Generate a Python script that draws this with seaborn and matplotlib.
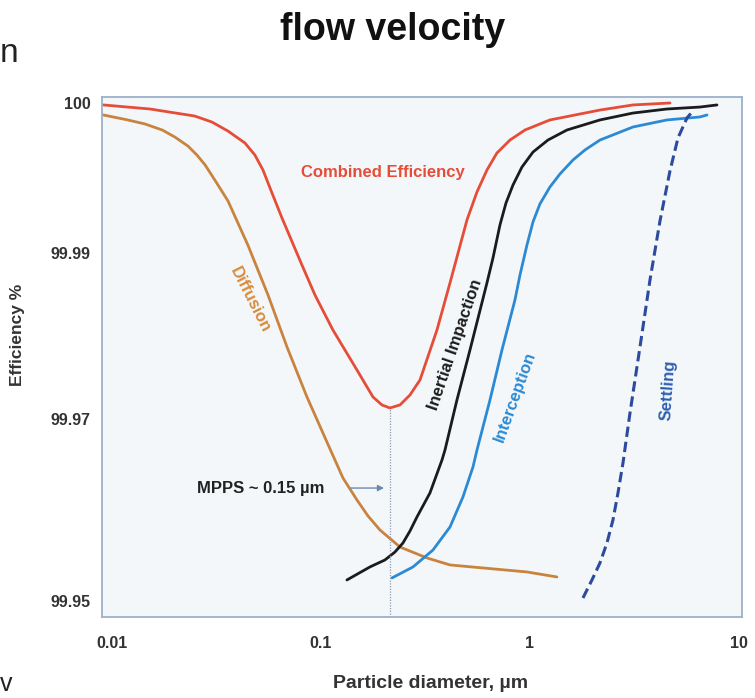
import numpy as np
import matplotlib
matplotlib.use('Agg')
import matplotlib.pyplot as plt
import seaborn as sns
from matplotlib.ticker import FixedLocator, FixedFormatter

# particle diameter (um) and efficiency (%)
combined_d = [0.0091, 0.0152, 0.0249, 0.0301, 0.0359, 0.0433, 0.0483, 0.0528, 0.0583,
              0.0651, 0.0811, 0.0936, 0.1141, 0.1487, 0.1774, 0.1958, 0.2138, 0.2388,
              0.2666, 0.2977, 0.3589, 0.4143, 0.4995, 0.5578, 0.6225, 0.6951, 0.8024,
              0.9465, 1.246, 2.162, 3.110, 4.676]
combined_eff = [99.99987, 99.99960, 99.99913, 99.99873, 99.99813, 99.99733, 99.99653,
                99.99553, 99.99400, 99.99233, 99.98855, 99.98494, 99.98072, 99.97590,
                99.97265, 99.97169, 99.97133, 99.97169, 99.97289, 99.97470, 99.98072,
                99.98639, 99.99220, 99.99407, 99.99553, 99.99667, 99.99753, 99.99820,
                99.99887, 99.99953, 99.99987, 100.0]

diffusion_d = [0.0091, 0.0119, 0.0144, 0.0174, 0.0200, 0.0231, 0.0255, 0.0279, 0.0315,
               0.0359, 0.0447, 0.0558, 0.0688, 0.0857, 0.1068, 0.1274, 0.1487, 0.1679,
               0.1916, 0.2388, 0.3215, 0.4143, 0.5958, 0.9674, 1.346]
diffusion_eff = [99.99920, 99.99887, 99.99860, 99.99820, 99.99773, 99.99713, 99.99653,
                 99.99587, 99.99473, 99.99347, 99.99053, 99.98494, 99.97867, 99.97265,
                 99.96747, 99.96352, 99.96110, 99.95934, 99.95780, 99.95593, 99.95473,
                 99.95396, 99.95363, 99.95319, 99.95264]

impaction_d = [0.1331, 0.1715, 0.2024, 0.2259, 0.2467, 0.2666, 0.2879, 0.3322, 0.3793,
               0.3921, 0.4473, 0.5163, 0.6225, 0.6653, 0.7186, 0.7677, 0.8293, 0.9156,
               1.034, 1.219, 1.503, 2.162, 3.110, 4.524, 6.508, 7.847]
impaction_eff = [99.95231, 99.95374, 99.95451, 99.95538, 99.95637, 99.95769, 99.95923,
                 99.96187, 99.96549, 99.96659, 99.97229, 99.97831, 99.98639, 99.98940,
                 99.99187, 99.99333, 99.99453, 99.99573, 99.99673, 99.99753, 99.99820,
                 99.99887, 99.99933, 99.99960, 99.99973, 99.99987]

interception_d = [0.2186, 0.2756, 0.3434, 0.4143, 0.4779, 0.5338, 0.5578, 0.6436, 0.7345,
                  0.8475, 0.8958, 0.9674, 1.034, 1.116, 1.246, 1.392, 1.606, 1.834, 2.162,
                  3.110, 4.524, 6.508, 7.029]
interception_eff = [99.95253, 99.95374, 99.95560, 99.95813, 99.96143, 99.96473, 99.96659,
                    99.97229, 99.97831, 99.98434, 99.98735, 99.99053, 99.99207, 99.99327,
                    99.99440, 99.99527, 99.99620, 99.99687, 99.99753, 99.99840, 99.99887,
                    99.99907, 99.99920]

settling_d = [1.793, 1.980, 2.162, 2.335, 2.495, 2.637, 2.786, 3.010, 3.360, 3.752, 4.188,
              4.676, 5.107, 5.639, 6.025]
settling_eff = [99.95033, 99.95231, 99.95418, 99.95637, 99.95890, 99.96187, 99.96516,
                99.97072, 99.97867, 99.98675, 99.99213, 99.99547, 99.99767, 99.99900,
                99.99947]

mpps_d = 0.2138

x_ticks = [0.01, 0.1, 1, 10]
x_tick_labels = ['0.01', '0.1', '1', '10']
y_ticks = [99.95, 99.97, 99.99, 100.0]
y_tick_labels = ['99.95', '99.97', '99.99', '100']

# the efficiency axis of the original is stretched unevenly between ticks
knots_val = [99.90, 99.95, 99.97, 99.99, 100.0, 100.01]
knots_pos = [-455, 0, 182, 348, 498, 648]


def fwd(v):
    return np.interp(v, knots_val, knots_pos)


def inv(p):
    return np.interp(p, knots_pos, knots_val)


sns.set_theme(style='white')
plt.rcParams['font.family'] = ['Liberation Sans', 'DejaVu Sans']

fig = plt.figure(figsize=(7.55, 6.98), dpi=100)
ax = fig.add_axes([102 / 755, 1 - 617 / 698, 640 / 755, 520 / 698])
ax.set_facecolor('#f4f7f9')

line_kw = dict(ax=ax, sort=False, estimator=None, solid_joinstyle='round',
               solid_capstyle='round')
sns.lineplot(x=combined_d, y=combined_eff, color='#e64d38', linewidth=2, **line_kw)
sns.lineplot(x=diffusion_d, y=diffusion_eff, color='#c8843f', linewidth=2, **line_kw)
sns.lineplot(x=impaction_d, y=impaction_eff, color='#1b1b1b', linewidth=2, **line_kw)
sns.lineplot(x=interception_d, y=interception_eff, color='#2b8ad3', linewidth=2, **line_kw)
sns.lineplot(x=settling_d, y=settling_eff, ax=ax, color='#2c4b9e', linewidth=2.2,
             linestyle=(0, (3.4, 1.6)), sort=False, estimator=None)

ax.set_xscale('log')
ax.set_yscale('function', functions=(fwd, inv))
ax.set_xlim(0.00896, 10.34)
ax.set_ylim(99.94824, 100.0004)

ax.vlines(mpps_d, 99.94824, min(combined_eff), colors='#8c9bb0', linewidth=0.9,
          linestyles=(0, (1, 1.2)))

ax.xaxis.set_major_locator(FixedLocator(x_ticks))
ax.xaxis.set_major_formatter(FixedFormatter(x_tick_labels))
ax.xaxis.set_minor_locator(FixedLocator([]))
ax.yaxis.set_major_locator(FixedLocator(y_ticks))
ax.yaxis.set_major_formatter(FixedFormatter(y_tick_labels))
ax.yaxis.set_minor_locator(FixedLocator([]))
ax.tick_params(axis='x', length=0, pad=14, labelsize=11.5, labelcolor='#333333')
ax.tick_params(axis='y', length=0, pad=8, labelsize=11.5, labelcolor='#333333')
for lab in ax.get_xticklabels() + ax.get_yticklabels():
    lab.set_fontweight('bold')
ax.set_xlabel('')
ax.set_ylabel('')

for s in ax.spines.values():
    s.set_color('#9cb1c8')
    s.set_linewidth(1.3)

# curve labels
ax.text(0.439, 0.854, 'Combined Efficiency', transform=ax.transAxes, color='#e64d38',
        fontsize=12, fontweight='bold', ha='center', va='center')
ax.text(0.231, 0.610, 'Diffusion', transform=ax.transAxes, color='#d68b3c',
        fontsize=12, fontweight='bold', ha='center', va='center', rotation=-63)
ax.text(0.552, 0.523, 'Inertial Impaction', transform=ax.transAxes, color='#1b1b1b',
        fontsize=12, fontweight='bold', ha='center', va='center', rotation=71)
ax.text(0.645, 0.423, 'Interception', transform=ax.transAxes, color='#2b8ad3',
        fontsize=12, fontweight='bold', ha='center', va='center', rotation=70)
ax.text(0.884, 0.437, 'Settling', transform=ax.transAxes, color='#2d5fb0',
        fontsize=12, fontweight='bold', ha='center', va='center', rotation=86)
ax.text(0.148, 0.248, 'MPPS ~ 0.15 µm', transform=ax.transAxes, color='#222222',
        fontsize=12, fontweight='bold', ha='left', va='center')
ax.annotate('', xy=(0.445, 0.248), xytext=(0.384, 0.248), xycoords='axes fraction',
            arrowprops=dict(arrowstyle='-|>', color='#6a89b0', lw=1, mutation_scale=9))

fig.text(393 / 755, 1 - 30 / 698, 'flow velocity', ha='center', va='center',
         fontsize=27, fontweight='bold', color='#111111')
fig.text(18 / 755, 1 - 335 / 698, 'Efficiency %', ha='center', va='center',
         rotation=90, fontsize=12.5, fontweight='bold', color='#333333')
fig.text(431 / 755, 1 - 683 / 698, 'Particle diameter, µm', ha='center', va='center',
         fontsize=14, fontweight='bold', color='#333333')
# fragments of neighbouring slide text at the crop edge
fig.text(0.0, 1 - 54 / 698, 'n', ha='left', va='center', fontsize=24, color='#222222')
fig.text(0.0, 1 - 684 / 698, 'v', ha='left', va='center', fontsize=18, color='#222222')

fig.savefig('out.png', dpi=100)
